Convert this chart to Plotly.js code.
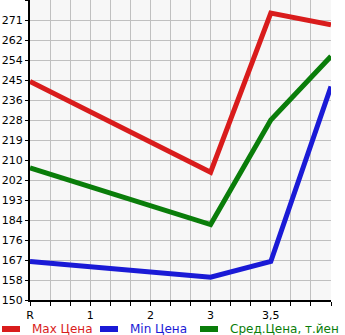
<!DOCTYPE html>
<html><head><meta charset="utf-8">
<script src="https://cdn.plot.ly/plotly-3.0.1.min.js"></script>
<style>html,body{margin:0;padding:0;background:#fff}#c{width:345px;height:335px}</style>
</head><body><div id="c"></div>
<script>
const xPos = [0, 3, 4, 5];
const xTickLabels = ['R', '1', '2', '3', '3,5', ''];
const maxPrice = [244.7, 205.4, 274.3, 269.3];
const minPrice = [166.7, 159.9, 166.7, 242.5];
const avgPrice = [207.3, 182.7, 228.0, 255.6];
const yTickLabels = ['150','158','167','176','184','193','202','210','219','228','236','245','254','262','271',''];
const seriesNames = ['Max Цена', 'Min Цена', 'Сред.Цена, т.йен'];
const colors = ['#d91c1c', '#1a1ad6', '#0a7d0a'];

const W = 345, H = 335, ML = 30, MR = 14, MT = 0, MB = 35;
const PW = W - ML - MR, PH = H - MT - MB;
const px2x = p => (p - ML) / PW;
const py2y = p => (H - MB - p) / PH;

const yTickVals = yTickLabels.map((_, i) => 150 + i * 130 / 15);
const xTickVals = [];
const xTickText = [];
for (let i = 0; i <= 15; i++) {
  xTickVals.push(i / 3);
  xTickText.push(i % 3 === 0 ? xTickLabels[i / 3] : '');
}
const data = [maxPrice, minPrice, avgPrice].map((y, k) => ({
  x: xPos, y: y, type: 'scatter', mode: 'lines', name: seriesNames[k],
  line: {color: colors[k], width: 5}
}));
// custom legend (single row, as in the reference)
const legendStarts = [0, 98, 198];
const legY = py2y(329);
const shapes = [], annotations = [];
seriesNames.forEach((n, k) => {
  const s = legendStarts[k];
  shapes.push({type: 'line', xref: 'paper', yref: 'paper',
    x0: px2x(s + 2), x1: px2x(s + 20), y0: legY, y1: legY,
    line: {color: colors[k], width: 6}});
  annotations.push({xref: 'paper', yref: 'paper', x: px2x(s + 30), y: legY,
    xanchor: 'left', yanchor: 'middle', showarrow: false, text: n,
    font: {family: 'DejaVu Sans', size: 12, color: colors[k]}});
});
const layout = {
  width: W, height: H,
  margin: {l: ML, r: MR, t: MT, b: MB},
  paper_bgcolor: '#fff', plot_bgcolor: '#f7f7f7',
  showlegend: false, shapes: shapes, annotations: annotations,
  xaxis: {range: [0, 5], tickvals: xTickVals, ticktext: xTickText, showgrid: true,
          gridcolor: '#c0c0c0', gridwidth: 1, showline: true, linecolor: '#000', linewidth: 2,
          ticks: 'outside', ticklen: 4, tickcolor: '#000', zeroline: false,
          tickfont: {family: 'DejaVu Sans', size: 11, color: '#000'}, fixedrange: true},
  yaxis: {range: [150, 280], tickvals: yTickVals, ticktext: yTickLabels, showgrid: true,
          gridcolor: '#c0c0c0', gridwidth: 1, showline: true, linecolor: '#000', linewidth: 2,
          ticks: 'outside', ticklen: 3, tickcolor: '#000', zeroline: false,
          tickfont: {family: 'DejaVu Sans', size: 11, color: '#000'}, fixedrange: true}
};
Plotly.newPlot('c', data, layout, {displayModeBar: false, staticPlot: true});
</script></body></html>
